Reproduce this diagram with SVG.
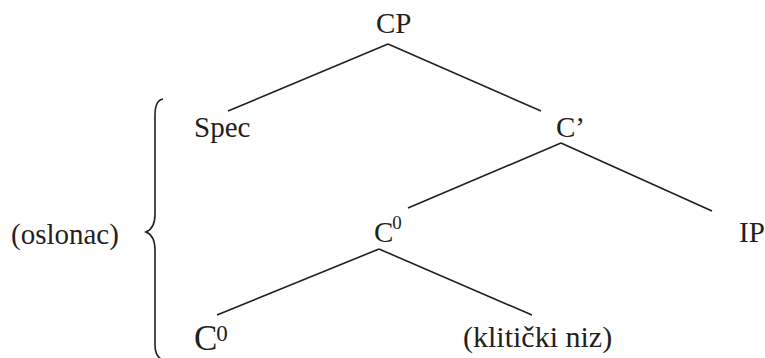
<svg xmlns="http://www.w3.org/2000/svg" width="765" height="358" viewBox="0 0 765 358">
<style>
text{font-family:"Liberation Serif","Times New Roman",serif;font-size:29px;fill:#231f20}
.sup{font-size:19px}
.big{font-size:35px}
.bigsup{font-size:23px}
.ln{stroke:#231f20;stroke-width:1.6;fill:none}
</style>
<rect width="765" height="358" fill="#fff"/>
<g id="connectors">
<line class="ln" x1="388" y1="44" x2="228" y2="111"/>
<line class="ln" x1="388" y1="44" x2="541" y2="111"/>
<line class="ln" x1="561" y1="143" x2="408" y2="208"/>
<line class="ln" x1="561" y1="143" x2="712" y2="211"/>
<line class="ln" x1="379" y1="249" x2="217" y2="315"/>
<line class="ln" x1="379" y1="249" x2="532" y2="315"/>
</g>
<g id="node-cp"><text x="376" y="33">CP</text></g>
<g id="node-spec"><text x="194" y="137">Spec</text></g>
<g id="node-cbar"><text x="556" y="137">C’</text></g>
<g id="node-c0"><text x="374" y="242">C<tspan class="sup" dx="-1" dy="-13">0</tspan></text></g>
<g id="node-ip"><text x="739" y="242">IP</text></g>
<g id="node-c0b"><text class="big" x="194" y="350">C<tspan class="bigsup" dx="-1" dy="-9">0</tspan></text></g>
<g id="node-klitiki"><text x="463" y="347" style="font-size:30px">(klitički niz)</text></g>
<g id="oslonac">
<text x="11" y="244">(oslonac)</text>
<path class="ln" d="M163,99 C157,100 155,106 155,115 L155,214 C155,225 151,230 146,232 C151,234 155,239 155,250 L155,345 C155,354 158,358 163,360"/>
</g>
</svg>
